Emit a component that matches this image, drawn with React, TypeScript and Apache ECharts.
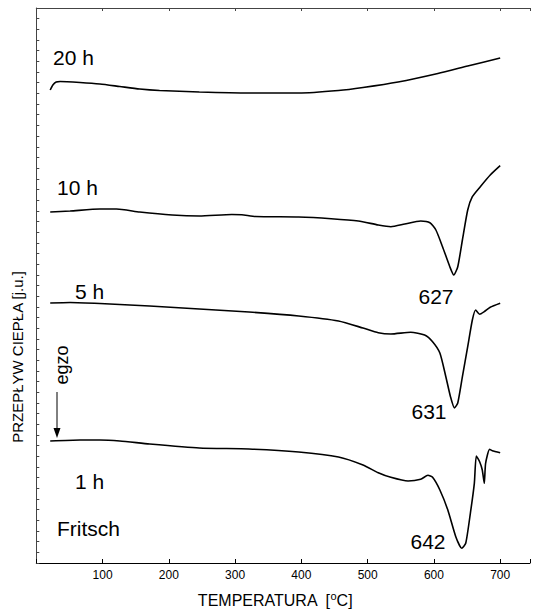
import React, { useEffect, useRef } from "react";
import * as echarts from "echarts";

// Temperature [°C] and heat flow [a.u.]
const t20 = [21, 25, 30, 36, 66, 96, 126, 156, 186, 246, 321, 396, 456, 493, 546, 606, 651, 700];
const q20 = [473, 478, 481, 481.5, 480.5, 479, 476.5, 474, 472.5, 471, 470, 470, 472.5, 475.5, 481, 489.5, 497, 505];

const t10 = [21, 51, 96, 121, 156, 205, 246, 295, 310, 331, 396, 445, 486, 516, 535, 556, 580, 594, 603, 613, 624, 630, 636, 643, 651, 658, 670, 685, 700];
const q10 = [351, 352, 354, 354, 351, 348, 347, 348.5, 348.3, 346.5, 346, 344.3, 342, 338, 336.3, 339, 342, 340.3, 333, 316.3, 296.3, 288, 296.3, 323, 353, 366.3, 376.3, 388, 397.3];

const t5 = [21, 51, 96, 171, 246, 321, 396, 456, 493, 516, 535, 565, 586, 598, 609, 618, 625, 631, 636, 643, 651, 658, 663, 669, 676, 685, 700];
const q5 = [260, 260.5, 259.5, 257, 254, 251, 247, 242, 235, 230.3, 229, 230.7, 228, 221.3, 210, 186.3, 166.3, 155, 160, 186.3, 216.3, 243, 253, 248.7, 251.3, 255.7, 259.7];

const t1 = [21, 66, 96, 126, 171, 246, 321, 396, 456, 493, 516, 535, 561, 580, 591, 598, 609, 621, 633, 642, 648, 655, 661, 664, 669, 673, 676, 678, 684, 688, 700];
const q1 = [122, 123, 123, 122, 119, 115, 114, 111, 106, 98, 90.3, 85.7, 82, 83.7, 87.7, 85.7, 73, 53, 26.3, 14.7, 19.7, 49.7, 79.7, 107, 101.3, 93, 79.7, 99.7, 113.7, 112.3, 110.3];

const seriesNames = ["20 h", "10 h", "5 h", "1 h"];
const peakLabels = ["627", "631", "642"];
const xTicks = [100, 200, 300, 400, 500, 600, 700];

const zip = (a: number[], b: number[]) => a.map((v, i) => [v, b[i]]);

export default function App() {
  const ref = useRef<HTMLDivElement>(null);
  useEffect(() => {
    document.body.style.margin = "0";
    if (!ref.current) return;
    const chart = echarts.init(ref.current, null, { renderer: "svg" });
    const font = "Liberation Sans, Arial, sans-serif";
    const lineStyle = { color: "#000", width: 1.6 };
    const mk = (name: string, t: number[], q: number[]) => ({
      name,
      type: "line",
      data: zip(t, q),
      showSymbol: false,
      smooth: 0.2,
      lineStyle,
      xAxisIndex: 0,
      yAxisIndex: 0,
    });
    const txt = (text: string, x: number, y: number, size = 21, align = "left") => ({
      type: "text",
      x,
      y,
      style: { text, fontSize: size, fontFamily: font, fill: "#000", textAlign: align, textVerticalAlign: "middle" },
    });
    chart.setOption({
      animation: false,
      backgroundColor: "#fff",
      grid: { left: 36.3, top: 8, right: 0, bottom: 49, containLabel: false },
      xAxis: [
        {
          type: "value",
          min: 0,
          max: 745,
          interval: 100,
          position: "bottom",
          axisLine: { lineStyle: { color: "#000", width: 1 } },
          axisTick: { inside: true, length: 4, lineStyle: { color: "#000" } },
          axisLabel: {
            fontSize: 12,
            fontFamily: font,
            color: "#000",
            margin: 6,
            formatter: (v: number) => (xTicks.includes(v) ? String(v) : ""),
          },
          splitLine: { show: false },
        },
        {
          type: "value",
          min: 0,
          max: 745,
          interval: 100,
          position: "top",
          axisLine: { lineStyle: { color: "#444", width: 1 } },
          axisTick: { inside: true, length: 3, lineStyle: { color: "#444" } },
          axisLabel: { show: false },
          splitLine: { show: false },
        },
      ],
      yAxis: {
        type: "value",
        min: 0,
        max: 555,
        interval: 555 / 52,
        axisLine: { show: true, lineStyle: { color: "#444", width: 1 } },
        axisTick: { show: true, inside: true, length: 3, lineStyle: { color: "#444" } },
        axisLabel: { show: false },
        splitLine: { show: false },
      },
      series: [mk(seriesNames[0], t20, q20), mk(seriesNames[1], t10, q10), mk(seriesNames[2], t5, q5), mk(seriesNames[3], t1, q1)],
      graphic: [
        txt(seriesNames[0], 53, 57),
        txt(seriesNames[1], 57, 187),
        txt(seriesNames[2], 75, 291),
        txt(seriesNames[3], 75, 481),
        txt("Fritsch", 57, 528),
        txt(peakLabels[0], 436, 296, 21, "center"),
        txt(peakLabels[1], 429, 411, 21, "center"),
        txt(peakLabels[2], 428, 541, 21, "center"),
        {
          type: "text",
          x: 275,
          y: 600,
          style: {
            text: "TEMPERATURA  [{s|o}C]",
            fontSize: 16,
            fontFamily: font,
            fill: "#000",
            textAlign: "center",
            textVerticalAlign: "middle",
            rich: { s: { fontSize: 11, fontFamily: font, fill: "#000", padding: [0, 0, 9, 0] } },
          },
        },
        {
          type: "text",
          x: 17,
          y: 357,
          rotation: Math.PI / 2,
          style: {
            text: "PRZEPŁYW CIEPŁA [j.u.]",
            fontSize: 15,
            fontFamily: font,
            fill: "#000",
            textAlign: "center",
            textVerticalAlign: "middle",
          },
        },
        {
          type: "text",
          x: 62,
          y: 365,
          rotation: Math.PI / 2,
          style: { text: "egzo", fontSize: 18, fontFamily: font, fill: "#000", textAlign: "center", textVerticalAlign: "middle" },
        },
        { type: "line", shape: { x1: 57, y1: 392, x2: 57, y2: 430 }, style: { stroke: "#000", lineWidth: 1 } },
        { type: "polygon", shape: { points: [[53.5, 428], [60.5, 428], [57, 438]] }, style: { fill: "#000" } },
      ],
    });
    return () => chart.dispose();
  }, []);
  return <div ref={ref} style={{ width: 533, height: 612 }} />;
}
